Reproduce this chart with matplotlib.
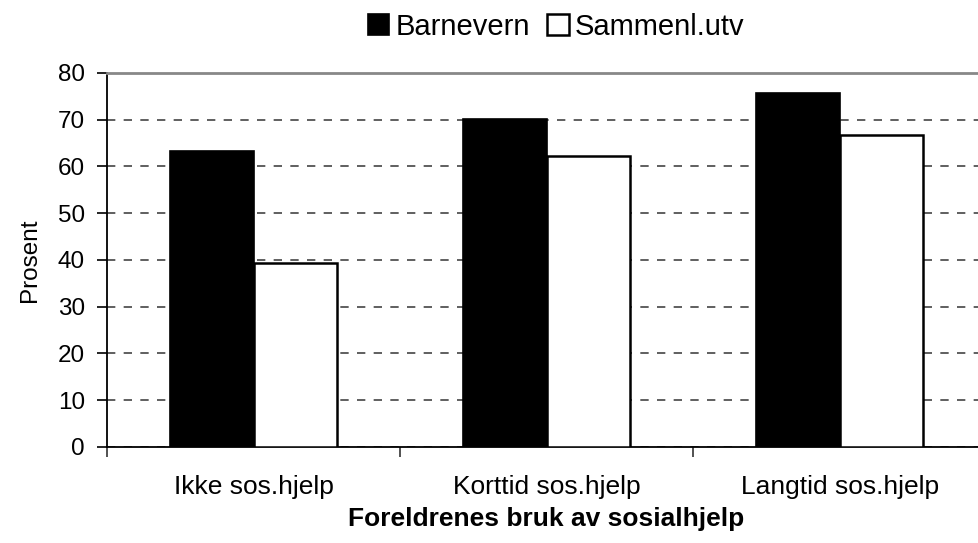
import matplotlib.pyplot as plt
import numpy as np

# Data
kategorier = ['Ikke sos.hjelp', 'Korttid sos.hjelp', 'Langtid sos.hjelp']
barnevern = [63.2, 70.1, 75.6]
sammenl_utv = [39.3, 62.3, 66.7]

plt.rcParams['font.family'] = ['Liberation Sans', 'DejaVu Sans']

fig = plt.figure(figsize=(9.79, 5.43), dpi=100)
ax = fig.add_axes([0.1093, 0.1768, 0.898, 0.689])

x = np.arange(1, len(kategorier) + 1)
w = 0.285

ax.bar(x - w / 2, barnevern, w, color='black', edgecolor='black', linewidth=1.2,
       label='Barnevern', zorder=3)
ax.bar(x + w / 2, sammenl_utv, w, color='white', edgecolor='black', linewidth=1.8,
       label='Sammenl.utv', zorder=3)

ax.set_xlim(0.5, len(kategorier) + 0.5)
ax.set_ylim(0, 80)
ax.set_yticks(np.arange(0, 81, 10))

# kategorinavn uten tick-streker, grensestreker som minor ticks
ax.set_xticks(x)
ax.set_xticklabels(kategorier)
ax.set_xticks(np.arange(0.5, len(kategorier) + 1, 1), minor=True)
ax.tick_params(axis='x', which='major', length=0, pad=20, labelsize=19)
ax.tick_params(axis='x', which='minor', length=7, width=1.2, direction='out', color='#333333')
ax.tick_params(axis='y', length=7, width=1.2, pad=9, labelsize=17.5)

ax.grid(axis='y', linestyle=(0, (5, 5)), color='#444444', linewidth=1.2, zorder=0)

ax.spines['top'].set_color('#888888')
ax.spines['top'].set_linewidth(2)
ax.spines['right'].set_visible(False)
ax.spines['left'].set_linewidth(1.3)
ax.spines['bottom'].set_linewidth(1.3)

ax.set_ylabel('Prosent', fontsize=17.5, labelpad=12)
ax.set_xlabel('Foreldrenes bruk av sosialhjelp', fontsize=19, fontweight='bold', labelpad=6)

fig.legend(loc='upper center', bbox_to_anchor=(0.568, 1.025), ncol=2, frameon=False,
           fontsize=21, handlelength=0.75, handleheight=0.75, handletextpad=0.2,
           columnspacing=0.6)

plt.savefig('out.png', dpi=100)
